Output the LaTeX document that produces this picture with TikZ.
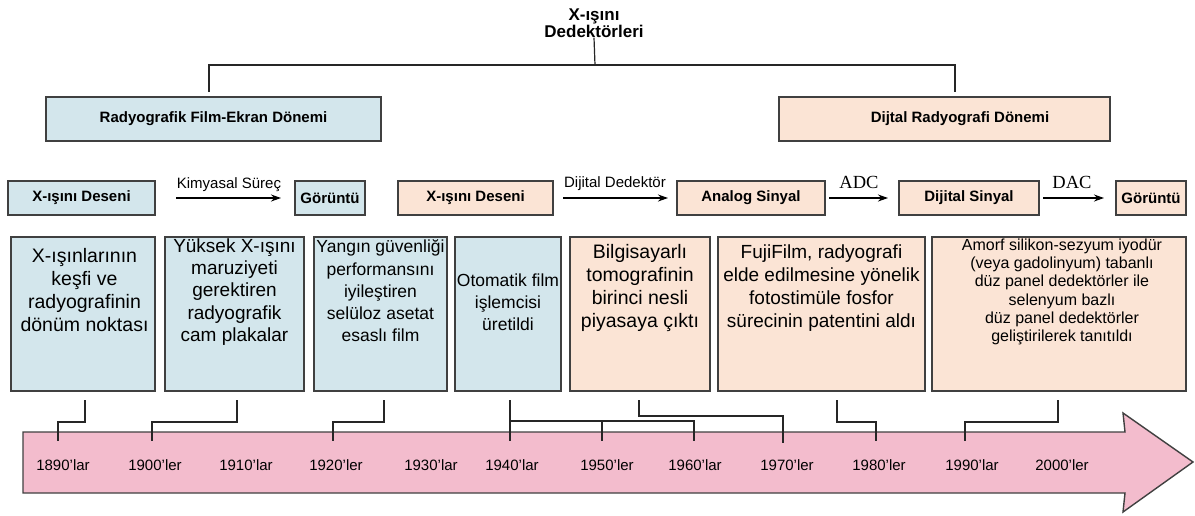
\documentclass[tikz,border=0pt]{standalone}
\usepackage{fontspec}
\setmainfont{Liberation Sans}
\newfontfamily\serifadc{Liberation Serif}
\usetikzlibrary{arrows.meta}
\definecolor{bluefill}{HTML}{D3E6EC}
\definecolor{peachfill}{HTML}{FBE4D5}
\definecolor{pinkfill}{HTML}{F3BCCD}
\definecolor{edge}{HTML}{404040}
\begin{document}
\begin{tikzpicture}[x=1pt,y=-1pt,
  box/.style={draw=edge, line width=1.4pt, inner sep=0pt, outer sep=0pt},
  bluebox/.style={box, fill=bluefill},
  peachbox/.style={box, fill=peachfill},
  lbl/.style={font=\bfseries\fontsize{15}{18}\selectfont},
  txt/.style={align=center, inner sep=0pt},
  conn/.style={line width=1.2pt, draw=black!85},
  flow/.style={line width=1.1pt, -{Stealth[length=10pt,width=7pt]}},
  flowlbl/.style={font=\fontsize{15}{18}\selectfont, anchor=base, inner sep=0pt},
  convlbl/.style={font=\serifadc\fontsize{18.5}{20}\selectfont, anchor=base, inner sep=0pt},
  yr/.style={font=\fontsize{15}{18}\selectfont, anchor=base, inner sep=0pt}
]
\useasboundingbox (0,0) rectangle (1195,515);

% title and hierarchy
\node[txt, font=\bfseries\fontsize{17}{17}\selectfont] (title) at (594,23) {X-ışını\\Dedektörleri};
\coordinate (hub) at (595,65);

\node[bluebox, lbl, minimum width=335pt, minimum height=44pt] (per1) at (213.5,119) {Radyografik Film-Ekran Dönemi};
\node[peachbox, minimum width=331pt, minimum height=44pt] (per2) at (944.5,119) {};
\node[lbl, inner sep=0pt] (per2t) at (960,119) {Dijtal Radyografi Dönemi};

\draw[conn] (title.south) -- (hub);
\draw[conn] ([xshift=-4.5pt,yshift=5pt]per1.north) |- (hub) -| ([xshift=10.5pt,yshift=5pt]per2.north);

% process row
\node[bluebox, lbl, minimum width=147pt, minimum height=34pt] (p1) at (81.5,198) {X-ışını Deseni};
\node[bluebox, lbl, minimum width=70pt, minimum height=34pt] (p2) at (330,198) {Görüntü};
\node[peachbox, lbl, minimum width=155pt, minimum height=34pt] (p3) at (475.5,198) {X-ışını Deseni};
\node[peachbox, lbl, minimum width=148pt, minimum height=34pt] (p4) at (751,198) {Analog Sinyal};
\node[peachbox, lbl, minimum width=140pt, minimum height=34pt] (p5) at (969,198) {Dijital Sinyal};
\node[peachbox, lbl, minimum width=70pt, minimum height=34pt] (p6) at (1151,198) {Görüntü};

\draw[flow, shorten <=21pt, shorten >=14pt] (p1) -- (p2);
\draw[flow, shorten <=10pt, shorten >=9pt] (p3) -- (p4);
\draw[flow, shorten <=4pt, shorten >=11pt] (p4) -- (p5);
\draw[flow, shorten <=4pt, shorten >=12pt] (p5) -- (p6);

\node[flowlbl] (l1) at (229,188) {Kimyasal Süreç};
\node[flowlbl] (l2) at (615,187) {Dijital Dedektör};
\node[convlbl] (l3) at (859,188) {ADC};
\node[convlbl] (l4) at (1072,188) {DAC};

% event boxes
\node[bluebox, minimum width=144pt, minimum height=154pt] (b1) at (83,314) {};
\node[bluebox, minimum width=139pt, minimum height=154pt] (b2) at (234.5,314) {};
\node[bluebox, minimum width=133pt, minimum height=154pt] (b3) at (380.5,314) {};
\node[bluebox, minimum width=106pt, minimum height=154pt] (b4) at (508,314) {};
\node[peachbox, minimum width=140pt, minimum height=154pt] (b5) at (640,314) {};
\node[peachbox, minimum width=207pt, minimum height=154pt] (b6) at (821.5,314) {};
\node[peachbox, minimum width=254pt, minimum height=154pt] (b7) at (1059,314) {};

\node[txt, font=\fontsize{19.5}{23.3}\selectfont] (b1t) at (84.5,290) {X-ışınlarının\\keşfi ve\\radyografinin\\dönüm noktası};
\node[txt, font=\fontsize{19}{22.3}\selectfont] (b2t) at (234.5,292) {Yüksek X-ışını\\maruziyeti\\gerektiren\\radyografik\\cam plakalar};
\node[txt, font=\fontsize{17.5}{22.3}\selectfont] (b3t) at (380.5,291) {Yangın güvenliği\\performansını\\iyileştiren\\selüloz asetat\\esaslı film};
\node[txt, font=\fontsize{17.5}{22}\selectfont] (b4t) at (508,302) {Otomatik film\\işlemcisi\\üretildi};
\node[txt, font=\fontsize{19.5}{22.8}\selectfont] (b5t) at (640,288) {Bilgisayarlı\\tomografinin\\birinci nesli\\piyasaya çıktı};
\node[txt, font=\fontsize{19}{22.8}\selectfont] (b6t) at (821.5,288) {FujiFilm, radyografi\\elde edilmesine yönelik\\fotostimüle fosfor\\sürecinin patentini aldı};
\node[txt, font=\fontsize{16}{18.3}\selectfont] (b7t) at (1062,292) {Amorf silikon-sezyum iyodür\\(veya gadolinyum) tabanlı\\düz panel dedektörler ile\\selenyum bazlı\\düz panel dedektörler\\geliştirilerek tanıtıldı};

% timeline arrow
\draw[line width=1.4pt, draw=edge, fill=pinkfill] (23,432) -- (1125,432) -- (1123,413) -- (1193,462) -- (1123,512) -- (1125,493) -- (23,493) -- cycle;

\node[yr] (y1890) at (63,470) {1890’lar};
\node[yr] (y1900) at (155,470) {1900’ler};
\node[yr] (y1910) at (246,470) {1910’lar};
\node[yr] (y1920) at (336,470) {1920’ler};
\node[yr] (y1930) at (431,470) {1930’lar};
\node[yr] (y1940) at (512,470) {1940’lar};
\node[yr] (y1950) at (607,470) {1950’ler};
\node[yr] (y1960) at (695,470) {1960’lar};
\node[yr] (y1970) at (787,470) {1970’ler};
\node[yr] (y1980) at (879,470) {1980’ler};
\node[yr] (y1990) at (972,470) {1990’lar};
\node[yr] (y2000) at (1062,470) {2000’ler};

\coordinate (t1890) at (58,441);
\coordinate (t1900) at (152,441);
\coordinate (t1920) at (333,441);
\coordinate (t1940) at (510,441);
\coordinate (t1950) at (602,441);
\coordinate (t1960) at (694,441);
\coordinate (t1970) at (783,443);
\coordinate (t1980) at (876,441);
\coordinate (t1990) at (965,441);

\draw[conn] ([xshift=2pt,yshift=-9pt]b1.south) -- ++(0,22) -| (t1890);
\draw[conn] ([xshift=2.5pt,yshift=-9pt]b2.south) -- ++(0,22) -| (t1900);
\draw[conn] ([xshift=3.5pt,yshift=-9pt]b3.south) -- ++(0,22) -| (t1920);
\draw[conn] ([xshift=2pt,yshift=-9pt]b4.south) -- (t1940);
\draw[conn] ([xshift=2pt,yshift=-30pt]b4.south) -| (t1960);
\draw[conn] (t1950 |- 0,421) -- (t1950);
\draw[conn] ([xshift=-1pt,yshift=-9pt]b5.south) -- ++(0,16) -| (t1970);
\draw[conn] ([xshift=15.5pt,yshift=-9pt]b6.south) -- ++(0,22) -| (t1980);
\draw[conn] ([xshift=-1pt,yshift=-9pt]b7.south) -- ++(0,22) -| (t1990);
\end{tikzpicture}
\end{document}
